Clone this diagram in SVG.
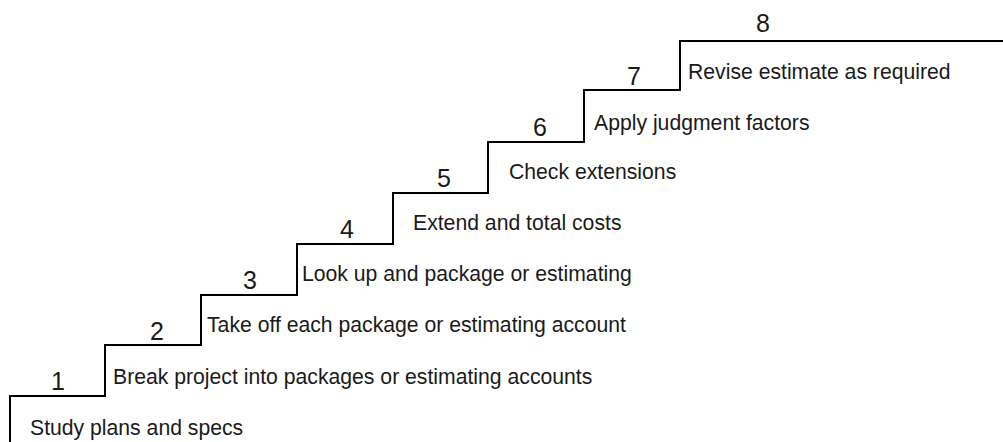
<svg xmlns="http://www.w3.org/2000/svg" width="1003" height="442" viewBox="0 0 1003 442">
  <style>
    .stair { fill: none; stroke: #000; stroke-width: 2; stroke-linejoin: miter; }
    .label { font-family: "Liberation Sans", Arial, sans-serif; font-size: 21.2px; fill: #1a1a1a; }
    .num { font-family: "Liberation Sans", Arial, sans-serif; font-size: 25px; fill: #1a1a1a; text-anchor: middle; }
  </style>
  <rect width="1003" height="442" fill="#fff"/>

  <!-- staircase outline -->
  <g id="connectors">
    <path class="stair" d="M10,442 V396 H105 V345 H201 V295 H297 V244 H393 V193 H488 V142 H584 V90 H680 V41 H1003"/>
  </g>

  <!-- steps: number above each tread, label below it -->
  <g id="step1">
    <text class="num" x="58" y="390">1</text>
    <text class="label" x="30" y="435">Study plans and specs</text>
  </g>
  <g id="step2">
    <text class="num" x="157" y="340">2</text>
    <text class="label" x="113" y="384">Break project into packages or estimating accounts</text>
  </g>
  <g id="step3">
    <text class="num" x="250" y="289">3</text>
    <text class="label" x="207" y="332">Take off each package or estimating account</text>
  </g>
  <g id="step4">
    <text class="num" x="347" y="238">4</text>
    <text class="label" x="302" y="281">Look up and package or estimating</text>
  </g>
  <g id="step5">
    <text class="num" x="444" y="187">5</text>
    <text class="label" x="413" y="230">Extend and total costs</text>
  </g>
  <g id="step6">
    <text class="num" x="540" y="136">6</text>
    <text class="label" x="509" y="179">Check extensions</text>
  </g>
  <g id="step7">
    <text class="num" x="634" y="85">7</text>
    <text class="label" x="594" y="130">Apply judgment factors</text>
  </g>
  <g id="step8">
    <text class="num" x="763" y="32">8</text>
    <text class="label" x="688" y="79">Revise estimate as required</text>
  </g>
</svg>
